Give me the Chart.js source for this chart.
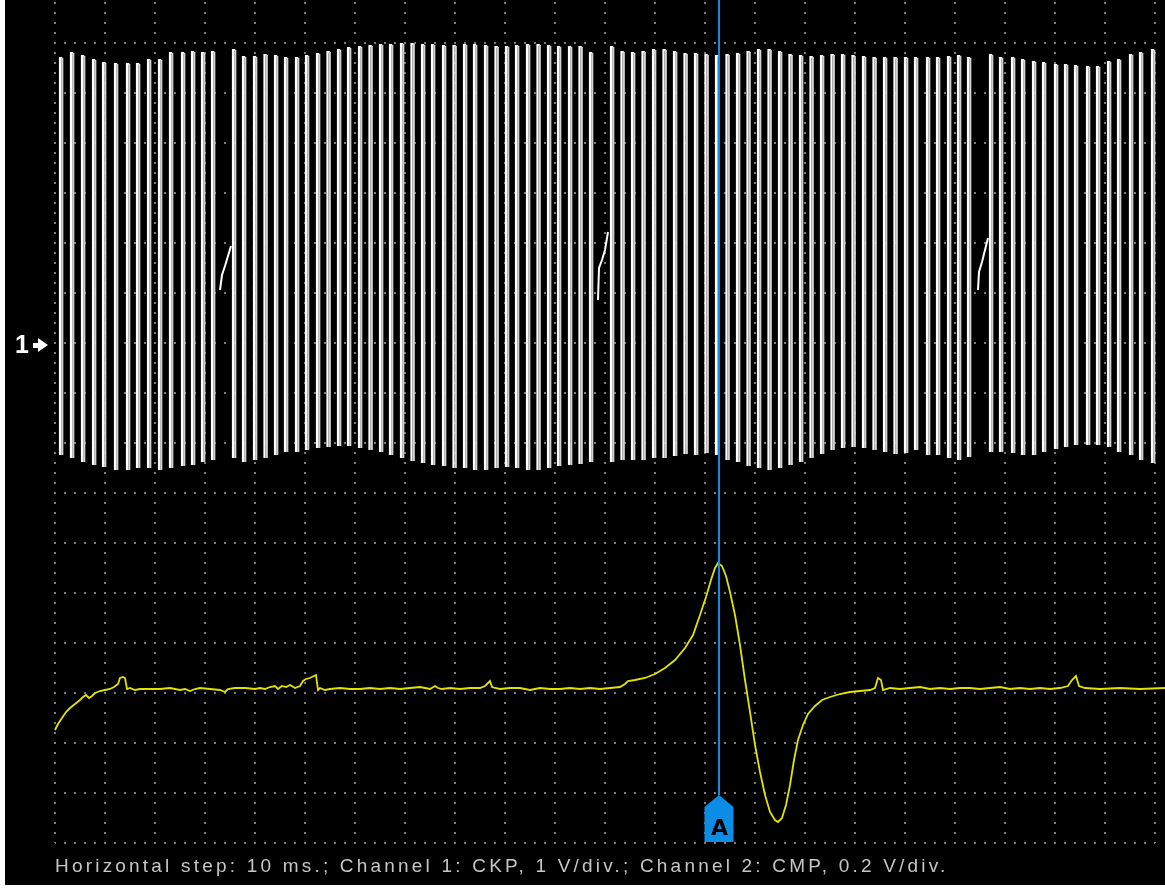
<!DOCTYPE html>
<html>
<head>
<meta charset="utf-8">
<script src="https://cdn.jsdelivr.net/npm/chart.js@4.4.1/dist/chart.umd.min.js"></script>
<style>
  body { margin: 0; background: #fff; }
  #wrap { position: absolute; left: 5px; top: 0; width: 1160px; height: 885px; }
  #scope { background: #000; }
</style>
</head>
<body>
<div id="wrap"><canvas id="scope"></canvas></div>
<script>
// horizontal: 10 ms/div, channel 1 (CKP) in volts, channel 2 (CMP) in volts
var ckpTime = [1.0, 3.2, 5.4, 7.6, 9.6, 12.0, 14.4, 16.4, 18.6, 20.8, 23.0, 25.4, 27.4, 29.4, 31.4,
  35.6, 37.6, 39.8, 41.9, 44.0, 46.0, 48.2, 50.2, 52.4, 54.5, 56.6, 58.6, 60.8, 62.9, 65.0, 67.0, 69.2, 71.3,
  73.4, 75.4, 77.6, 79.7, 81.8, 83.8, 86.0, 88.1, 90.2, 92.2, 94.4, 96.5, 98.6, 100.6, 102.8, 104.9, 107.0,
  111.2, 113.3, 115.4, 117.5, 119.6, 121.7, 123.8, 125.9, 128.0, 130.1, 132.2, 134.3, 136.4, 138.5, 140.6,
  142.7, 144.8, 146.9, 149.0, 151.1, 153.2, 155.3, 157.4, 159.5, 161.6, 163.7, 165.8, 167.9, 170.0, 172.0,
  174.4, 176.4, 178.6, 180.6, 182.6,
  187.0, 189.0, 191.4, 193.4, 195.6, 197.6, 200.0, 202.0, 204.0, 206.4, 208.4, 210.6, 212.6, 215.0, 217.0,
  219.4, 221.4]
var ckpHigh = [5.74, 5.84, 5.78, 5.70, 5.64, 5.62, 5.62, 5.62, 5.70, 5.70, 5.84, 5.84, 5.86, 5.84, 5.86,
  5.90, 5.76, 5.76, 5.80, 5.78, 5.74, 5.74, 5.78, 5.82, 5.86, 5.90, 5.94, 5.96, 5.98, 6.00, 6.00, 6.02, 6.02,
  6.00, 6.00, 5.98, 5.98, 6.00, 6.00, 5.98, 5.96, 5.96, 5.98, 6.00, 6.00, 5.98, 5.96, 5.96, 5.96, 5.84,
  5.96, 5.86, 5.84, 5.86, 5.90, 5.90, 5.86, 5.82, 5.82, 5.80, 5.78, 5.80, 5.82, 5.86, 5.90, 5.90, 5.86, 5.80,
  5.78, 5.76, 5.78, 5.80, 5.80, 5.78, 5.76, 5.74, 5.74, 5.74, 5.74, 5.74, 5.74, 5.74, 5.76, 5.78, 5.74,
  5.80, 5.74, 5.74, 5.70, 5.66, 5.64, 5.60, 5.60, 5.58, 5.56, 5.56, 5.66, 5.70, 5.80, 5.84, 5.90, 5.90]
var ckpLow = [-2.20, -2.26, -2.34, -2.40, -2.44, -2.50, -2.50, -2.46, -2.46, -2.50, -2.46, -2.42, -2.40, -2.34, -2.30,
  -2.26, -2.34, -2.30, -2.26, -2.20, -2.14, -2.14, -2.10, -2.06, -2.04, -2.02, -2.02, -2.06, -2.10, -2.14, -2.20,
  -2.26, -2.32, -2.36, -2.40, -2.42, -2.46, -2.46, -2.50, -2.50, -2.46, -2.44, -2.46, -2.50, -2.50, -2.46, -2.42,
  -2.40, -2.38, -2.34,
  -2.34, -2.30, -2.30, -2.30, -2.26, -2.26, -2.22, -2.18, -2.20, -2.16, -2.20, -2.30, -2.34, -2.42, -2.46, -2.50,
  -2.46, -2.40, -2.34, -2.26, -2.18, -2.10, -2.06, -2.04, -2.06, -2.10, -2.14, -2.18, -2.16, -2.10, -2.20, -2.20,
  -2.26, -2.30, -2.24,
  -2.14, -2.14, -2.16, -2.20, -2.20, -2.14, -2.08, -2.04, -2.00, -2.00, -2.00, -2.04, -2.14, -2.20, -2.30,
  -2.36, -2.34]
// missing-tooth gaps
var gapTime = [[33.0, 33.4, 34.0, 34.6, 35.2], [108.6, 108.8, 109.4, 110.0, 110.6], [184.6, 184.8, 185.4, 186.0, 186.6]]
var gapVolt = [[1.10, 1.40, 1.58, 1.78, 1.98], [0.90, 1.54, 1.70, 1.90, 2.26], [1.10, 1.46, 1.66, 1.90, 2.14]]

var cmpTime = [0, 0.6, 1.4, 2.2, 3, 4, 5, 5.6, 6.2, 6.8, 7.4, 8, 9, 10, 11, 11.8, 12.6, 13, 13.6, 14, 14.4, 15, 16, 17,
  19, 21, 23, 25, 26, 27, 28, 29, 31, 33, 34, 34.6, 36, 38, 40, 41, 42, 43, 44, 44.6, 45.4, 46.2, 47, 48, 49, 49.6,
  50.2, 51, 51.8, 52.2, 52.6, 53, 54, 55, 57, 59, 61, 63, 65, 67, 69, 71, 73, 75, 76, 76.6, 77.4, 79, 81, 83, 85,
  86, 86.6, 87, 87.4, 88, 89, 91, 93, 95, 97, 99, 101, 103, 105, 107, 109, 111, 113, 114, 114.6, 116, 118, 120,
  122, 124, 126, 127.6, 129, 130.2, 131.2, 132, 132.6, 133.4, 134.2, 135, 136, 137, 138, 139, 140, 141, 142, 143,
  144, 144.6, 145.4, 146.2, 147, 147.8, 148.6, 149.6, 150.6, 152, 153.4, 155, 157, 159, 161, 163, 164, 164.6,
  165.2, 165.6, 167, 169, 171, 173, 175, 177, 179, 181, 183, 185, 187, 189, 191, 193, 195, 197, 199, 201, 202.6,
  203.4, 204.2, 204.8, 206, 209, 213, 217, 222]
var cmpVolt = [-0.168, -0.144, -0.12, -0.096, -0.08, -0.064, -0.048, -0.036, -0.028, -0.04, -0.032, -0.02, -0.012,
  -0.008, -0.004, 0.004, 0.016, 0.04, 0.044, 0.04, -0.004, 0, -0.008, -0.004, -0.004, -0.004, 0, -0.008, -0.004,
  -0.012, -0.004, 0, -0.004, -0.008, -0.016, -0.004, 0, 0, -0.004, 0, -0.004, 0.004, 0.008, -0.004, 0.008, 0.004,
  0.012, 0, 0.008, 0.028, 0.036, 0.04, 0.048, 0.052, -0.008, 0, -0.008, -0.004, 0, -0.004, -0.004, 0, -0.004, 0,
  -0.004, 0, 0.004, -0.004, 0.008, 0, -0.004, 0, -0.004, 0, 0, 0.008, 0.02, 0.028, 0.004, 0, -0.004, 0, 0, -0.008,
  0, -0.004, -0.004, 0, -0.004, 0, -0.004, 0, 0.004, 0.016, 0.028, 0.032, 0.04, 0.056, 0.08, 0.112, 0.16, 0.212,
  0.292, 0.364, 0.432, 0.48, 0.5, 0.488, 0.448, 0.384, 0.292, 0.172, 0.032, -0.096, -0.228, -0.336, -0.428,
  -0.496, -0.528, -0.536, -0.52, -0.468, -0.388, -0.288, -0.208, -0.148, -0.104, -0.072, -0.048, -0.036, -0.024,
  -0.016, -0.012, -0.008, 0, 0.04, 0.032, -0.008, 0, -0.004, 0, 0.004, -0.004, 0, -0.004, 0, 0, -0.004, 0, 0.004,
  -0.004, 0, -0.004, 0, -0.004, 0, 0.008, 0.032, 0.048, 0.008, 0, -0.004, 0, -0.004, 0]

var cursorTime = 132.8
var footer = 'Horizontal step: 10 ms.; Channel 1: CKP, 1 V/div.; Channel 2: CMP, 0.2 V/div.'

var fall = 0.45  // falling edge drawn just after the rising one

var ckpPoints = []
ckpTime.forEach(function(t, i) {
	ckpPoints.push({x: t, y: ckpLow[i]}, {x: t, y: ckpHigh[i]}, {x: t + fall, y: ckpHigh[i]},
		{x: t + fall, y: ckpLow[i]}, {x: t + fall, y: null})
})
var gapPoints = []
gapTime.forEach(function(ts, g) {
	ts.forEach(function(t, i) { gapPoints.push({x: t, y: gapVolt[g][i]}) })
	gapPoints.push({x: ts[ts.length - 1], y: null})
})
var cmpPoints = cmpTime.map(function(t, i) { return {x: t, y: cmpVolt[i]} })

var gridColor = '#7a7a7a'

var markers = {
	id: 'markers',
	beforeDraw: function(chart) { chart.ctx.letterSpacing = '3.2px' },
	beforeDatasetsDraw: function(chart) { chart.ctx.letterSpacing = '0px' },
	afterDraw: function(chart) {
		var ctx = chart.ctx
		var y0 = chart.scales.y1.getPixelForValue(0)
		ctx.save()
		ctx.fillStyle = '#fff'
		ctx.font = 'bold 25px "Liberation Sans", Arial'
		ctx.textBaseline = 'middle'
		ctx.textAlign = 'left'
		ctx.fillText('1', 10, y0 + 1)
		ctx.beginPath()
		ctx.moveTo(28, y0 - 2); ctx.lineTo(33, y0 - 2); ctx.lineTo(33, y0 - 7); ctx.lineTo(43, y0)
		ctx.lineTo(33, y0 + 7); ctx.lineTo(33, y0 + 3); ctx.lineTo(28, y0 + 3)
		ctx.closePath(); ctx.fill()

		// cursor tag "A"
		var cx = chart.scales.x.getPixelForValue(cursorTime)
		var bot = chart.scales.g.getPixelForValue(0) - 1
		ctx.fillStyle = '#0b8de6'
		ctx.beginPath()
		ctx.moveTo(cx - 14.5, bot - 35); ctx.lineTo(cx, bot - 47); ctx.lineTo(cx + 14.5, bot - 35)
		ctx.lineTo(cx + 14.5, bot); ctx.lineTo(cx - 14.5, bot); ctx.closePath(); ctx.fill()
		ctx.fillStyle = '#000'
		ctx.font = 'bold 22px "DejaVu Sans"'
		ctx.textAlign = 'center'
		ctx.textBaseline = 'alphabetic'
		ctx.fillText('A', cx + 0.5, bot - 7)
		ctx.restore()
	}
}

var chart = new Chart(document.getElementById('scope'), {
	type: 'line',
	data: {
		datasets: [
			{
				label: 'cursor A',
				data: [{x: cursorTime, y: 16.86}, {x: cursorTime, y: 0.96}],
				yAxisID: 'g',
				borderColor: '#0b8de6',
				borderWidth: 2,
				pointRadius: 0
			},
			{
				label: 'CKP',
				data: ckpPoints,
				yAxisID: 'y1',
				borderColor: '#ffffff',
				borderWidth: 2.2,
				pointRadius: 0,
				clip: false,
				segment: {
					borderColor: function(c) { return c.p1.parsed.y < c.p0.parsed.y ? '#d2d2d2' : undefined }
				}
			},
			{
				label: 'CKP gap',
				data: gapPoints,
				yAxisID: 'y1',
				borderColor: '#ffffff',
				borderWidth: 2,
				pointRadius: 0,
				clip: false
			},
			{
				label: 'CMP',
				data: cmpPoints,
				yAxisID: 'y2',
				borderColor: '#e2e200',
				borderWidth: 1.8,
				pointRadius: 0,
				clip: false
			}
		]
	},
	options: {
		responsive: true,
		maintainAspectRatio: false,
		animation: false,
		events: [],
		layout: { autoPadding: false, padding: { left: 50, right: 10, top: 0, bottom: 0 } },
		scales: {
			x: {
				type: 'linear', min: 0, max: 220,
				ticks: { display: false, stepSize: 10, includeBounds: false },
				grid: { color: gridColor, lineWidth: 2, drawTicks: false },
				border: { display: false, dash: [2, 8], dashOffset: 8 }
			},
			g: {
				type: 'linear', position: 'left', min: 0, max: 16.86,
				ticks: { display: false, stepSize: 1, includeBounds: false },
				grid: { color: gridColor, lineWidth: 2, drawTicks: false },
				border: { display: false, dash: [2, 8], dashOffset: 1 }
			},
			y1: { type: 'linear', display: false, min: -9.96, max: 6.9 },
			y2: { type: 'linear', display: false, min: -0.62, max: 2.752 }
		},
		plugins: {
			legend: { display: false },
			tooltip: { enabled: false },
			title: {
				display: true,
				text: footer,
				position: 'bottom',
				align: 'start',
				color: '#c6c6c6',
				font: { family: '"Liberation Sans", Arial', size: 19, weight: 'normal', lineHeight: '20px' },
				padding: { top: 14, bottom: 8 }
			}
		}
	},
	plugins: [markers]
})
</script>
</body>
</html>
